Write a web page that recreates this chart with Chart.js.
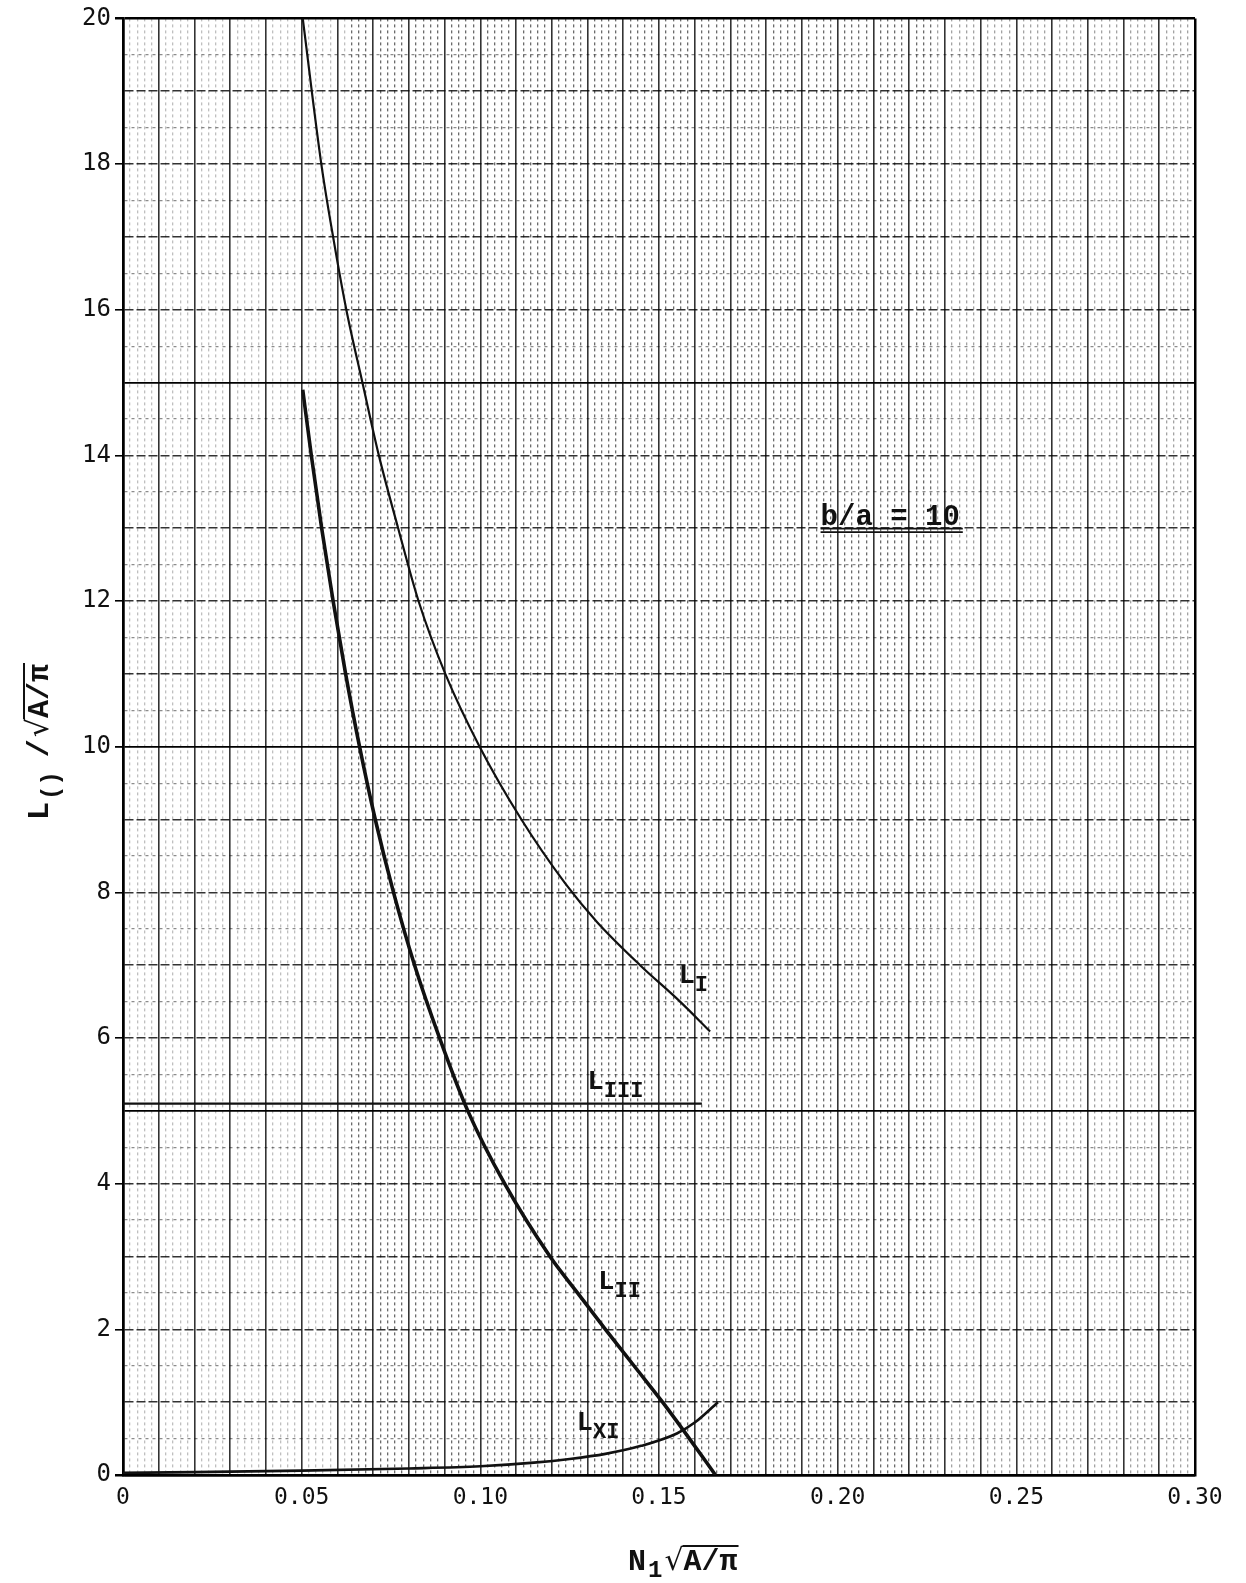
<!DOCTYPE html>
<html>
<head>
<meta charset="utf-8">
<title>L / sqrt(A/pi) against N1 sqrt(A/pi)</title>
<script src="https://cdn.jsdelivr.net/npm/chart.js@4.4.1/dist/chart.umd.min.js"></script>
<style>
  html, body { margin: 0; padding: 0; background: #fff; }
  canvas { display: block; }
</style>
</head>
<body>
<canvas id="lengthChart" width="1246" height="1583"></canvas>
<script>
// Tick labels
const xTickLabels = ['0', '0.05', '0.10', '0.15', '0.20', '0.25', '0.30'];
const yTickLabels = ['0', '2', '4', '6', '8', '10', '12', '14', '16', '18', '20'];

// L_I : upper thin curve
const l1X = [0.0503, 0.0555, 0.0588, 0.0625, 0.0670, 0.0716, 0.0770, 0.0827, 0.0902, 0.0998, 0.1115, 0.1238, 0.1327, 0.1447, 0.1559, 0.1643];
const l1Y = [20.0, 18.0, 17.0, 16.0, 15.0, 14.0, 13.0, 12.0, 11.0, 10.0, 9.0, 8.12, 7.59, 7.0, 6.5, 6.09];

// L_II : thick curve
const l2X = [0.0503, 0.0527, 0.0556, 0.0588, 0.0623, 0.0662, 0.0706, 0.0757, 0.0816, 0.0886, 0.0965, 0.1068, 0.1195, 0.1272, 0.1350, 0.1430, 0.1510, 0.1585, 0.1658];
const l2Y = [14.9, 14.0, 13.0, 12.0, 11.0, 10.0, 9.0, 8.0, 7.0, 6.0, 5.0, 4.0, 3.0, 2.5, 2.0, 1.5, 1.0, 0.5, 0.0];

// L_III : flat line
const l3X = [0.0, 0.08, 0.162];
const l3Y = [5.1, 5.1, 5.1];

// lower curve rising near the right end
const l4X = [0.0, 0.02, 0.05, 0.08, 0.10, 0.115, 0.125, 0.135, 0.145, 0.155, 0.160, 0.1665];
const l4Y = [0.03, 0.04, 0.06, 0.09, 0.12, 0.17, 0.22, 0.29, 0.40, 0.57, 0.72, 1.0];

function toPoints(xs, ys) {
  return xs.map((x, i) => ({ x: x, y: ys[i] }));
}

const curveLabels = [
  { main: 'L', sub: 'I', x: 0.1555, y: 6.75 },
  { main: 'L', sub: 'III', x: 0.1300, y: 5.3 },
  { main: 'L', sub: 'II', x: 0.1330, y: 2.55 },
  { main: 'L', sub: 'XI', x: 0.1270, y: 0.62 }
];

const INK = '#111';

function nearMultiple(v, step) {
  const k = Math.round(v / step);
  return Math.abs(v - k * step) < 1e-6 ? k : null;
}

// x grid: heavy every 0.01, fine dotted rulings every 0.002
function xGridColor(ctx) {
  const v = ctx.tick.value;
  if (nearMultiple(v, 0.01) !== null) {
    if (v < 1e-6 || v > 0.2999) return '#000';
    return 'rgba(0,0,0,0.8)';
  }
  if (v > 0.062 && v < 0.228) return 'rgba(0,0,0,0.58)';
  if (v <= 0.062) return 'rgba(0,0,0,0.25)';
  return 'rgba(0,0,0,0.36)';
}
function xGridWidth(ctx) {
  const v = ctx.tick.value;
  if (nearMultiple(v, 0.01) !== null) return (v < 1e-6 || v > 0.2999) ? 2.5 : 1.6;
  return 1.3;
}
function xGridDash(ctx) {
  const v = ctx.tick.value;
  return nearMultiple(v, 0.01) !== null ? [] : [3, 3];
}

// y grid: solid every 5, dashed every 1, light dashed every 0.5
function yGridColor(ctx) {
  const v = ctx.tick.value;
  if (nearMultiple(v, 5) !== null) return '#000';
  if (nearMultiple(v, 1) !== null) return 'rgba(0,0,0,0.8)';
  return 'rgba(0,0,0,0.45)';
}
function yGridWidth(ctx) {
  const v = ctx.tick.value;
  if (v < 1e-6 || v > 19.999) return 2.5;
  if (nearMultiple(v, 5) !== null) return 1.8;
  if (nearMultiple(v, 1) !== null) return 1.6;
  return 1.2;
}
function yGridDash(ctx) {
  const v = ctx.tick.value;
  if (nearMultiple(v, 5) !== null) return [];
  if (nearMultiple(v, 1) !== null) return [9, 3];
  return [3, 4];
}

// subscripted label such as L_II
function drawSub(c, x, y, main, sub, size) {
  c.font = 'bold ' + size + 'px "Liberation Mono", monospace';
  c.textBaseline = 'alphabetic';
  c.textAlign = 'left';
  c.fillText(main, x, y);
  const w = c.measureText(main).width;
  c.font = 'bold ' + Math.round(size * 0.8) + 'px "Liberation Mono", monospace';
  c.fillText(sub, x + w, y + size * 0.3);
}

// text with a square root and an overline over the radicand
function drawRoot(c, x, y, radicand, size) {
  c.font = size + 'px "DejaVu Sans", sans-serif';
  c.fillText('\u221A', x, y);
  const rw = c.measureText('\u221A').width;
  c.font = 'bold ' + size + 'px "Liberation Mono", monospace';
  c.fillText(radicand, x + rw, y);
  const tw = c.measureText(radicand).width;
  c.lineWidth = 2;
  c.beginPath();
  c.moveTo(x + rw - 1, y - size * 0.8);
  c.lineTo(x + rw + tw + 1, y - size * 0.8);
  c.stroke();
  return rw + tw;
}

const textPlugin = {
  id: 'chartText',
  afterDraw(chart) {
    const c = chart.ctx;
    const xs = chart.scales.x;
    const ys = chart.scales.y;
    c.save();
    c.fillStyle = INK;
    c.strokeStyle = INK;

    curveLabels.forEach(l => {
      drawSub(c, xs.getPixelForValue(l.x), ys.getPixelForValue(l.y), l.main, l.sub, 27);
    });

    // b/a = 10 with double underline
    const bx = xs.getPixelForValue(0.2147);
    const by = ys.getPixelForValue(13.05);
    c.font = 'bold 29px "Liberation Mono", monospace';
    c.textAlign = 'center';
    c.textBaseline = 'alphabetic';
    c.fillText('b/a = 10', bx, by);
    const bw = c.measureText('b/a = 10').width;
    c.lineWidth = 1.7;
    c.beginPath();
    c.moveTo(bx - bw / 2, by + 4); c.lineTo(bx + bw / 2 + 3, by + 4);
    c.moveTo(bx - bw / 2, by + 7.5); c.lineTo(bx + bw / 2 + 3, by + 7.5);
    c.stroke();

    // x axis title: N1 sqrt(A/pi)
    c.textAlign = 'left';
    let tx = 628, ty = 1570;
    c.font = 'bold 30px "Liberation Mono", monospace';
    c.fillText('N', tx, ty);
    tx += c.measureText('N').width + 2;
    c.font = 'bold 24px "Liberation Mono", monospace';
    c.fillText('1', tx, ty + 7);
    tx += c.measureText('1').width + 2;
    drawRoot(c, tx, ty, 'A/\u03C0', 30);

    // y axis title: L() / sqrt(A/pi), rotated
    c.translate(48, 820);
    c.rotate(-Math.PI / 2);
    let rx = 0;
    c.font = 'bold 30px "Liberation Mono", monospace';
    c.fillText('L', rx, 0);
    rx += c.measureText('L').width + 2;
    c.font = 'bold 24px "Liberation Mono", monospace';
    c.fillText('()', rx, 10);
    rx += c.measureText('()').width + 14;
    c.font = 'bold 30px "Liberation Mono", monospace';
    c.fillText('/', rx, 0);
    rx += c.measureText('/').width + 2;
    drawRoot(c, rx, 0, 'A/\u03C0', 30);
    c.restore();
  }
};

const ctx = document.getElementById('lengthChart').getContext('2d');

new Chart(ctx, {
  type: 'line',
  data: {
    datasets: [
      { label: 'L I', data: toPoints(l1X, l1Y), borderWidth: 2.2 },
      { label: 'L II', data: toPoints(l2X, l2Y), borderWidth: 3.6 },
      { label: 'L III', data: toPoints(l3X, l3Y), borderWidth: 2.2 },
      { label: 'L XI', data: toPoints(l4X, l4Y), borderWidth: 2.6 }
    ]
  },
  options: {
    responsive: false,
    animation: false,
    devicePixelRatio: 1,
    layout: { padding: { top: 13, right: 51, left: 0, bottom: 0 } },
    elements: {
      line: { borderColor: INK, cubicInterpolationMode: 'monotone', fill: false },
      point: { radius: 0 }
    },
    plugins: {
      legend: { display: false },
      tooltip: { enabled: false }
    },
    scales: {
      x: {
        type: 'linear',
        min: 0,
        max: 0.3,
        afterFit: s => { s.height = 108; },
        grid: {
          color: xGridColor,
          lineWidth: xGridWidth,
          drawTicks: true,
          tickLength: 6,
          tickColor: 'rgba(0,0,0,0)'
        },
        border: { display: true, color: '#000', width: 2.5, dash: xGridDash },
        ticks: {
          stepSize: 0.002,
          autoSkip: false,
          maxRotation: 0,
          padding: 3,
          color: INK,
          font: { family: '"DejaVu Sans Mono", monospace', size: 23 },
          callback: v => {
            const k = nearMultiple(v, 0.05);
            return k === null ? '' : xTickLabels[k];
          }
        }
      },
      y: {
        type: 'linear',
        min: 0,
        max: 20,
        afterFit: s => { s.width = 123; },
        grid: {
          color: yGridColor,
          lineWidth: yGridWidth,
          drawTicks: true,
          tickLength: 8,
          tickColor: c => (nearMultiple(c.tick.value, 2) !== null ? '#000' : 'rgba(0,0,0,0)')
        },
        border: { display: true, color: '#000', width: 2.5, dash: yGridDash },
        ticks: {
          stepSize: 0.5,
          autoSkip: false,
          padding: 4,
          color: INK,
          font: { family: '"DejaVu Sans Mono", monospace', size: 24 },
          callback: v => {
            const k = nearMultiple(v, 2);
            return k === null ? '' : yTickLabels[k];
          }
        }
      }
    }
  },
  plugins: [textPlugin]
});
</script>
</body>
</html>
